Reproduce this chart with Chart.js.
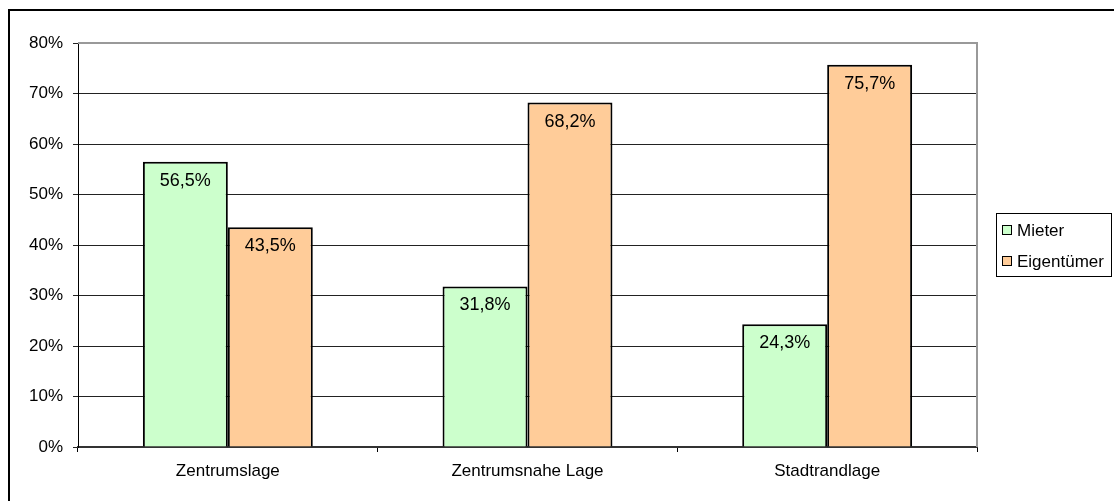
<!DOCTYPE html>
<html>
<head>
<meta charset="utf-8">
<style>
  html, body { margin: 0; padding: 0; background: #fff; }
  #wrap { width: 1114px; height: 501px; position: relative; }
</style>
<script src="https://cdn.jsdelivr.net/npm/chart.js@4.4.1/dist/chart.umd.min.js"></script>
</head>
<body>
<div id="wrap"><canvas id="chart" width="1114" height="501"></canvas></div>
<script>
// ─── Data ───
const categories = ['Zentrumslage', 'Zentrumsnahe Lage', 'Stadtrandlage'];
const mieter = [56.5, 31.8, 24.3];
const eigentuemer = [43.5, 68.2, 75.7];
const seriesNames = ['Mieter', 'Eigentümer'];
const yMin = 0;
const yMax = 80;
const yStep = 10;

const FONT = '"Liberation Sans", Arial, sans-serif';
const pct = (v) => `${v.toFixed(1).replace('.', ',')}%`;

// ─── Plugins ───
const frame = {
  id: 'frame',
  beforeDraw(chart) {
    const { ctx } = chart;
    ctx.save();
    // outer chart border (runs past right/bottom edge)
    ctx.strokeStyle = '#000';
    ctx.lineWidth = 2;
    ctx.strokeRect(9, 10, 1200, 600);
    ctx.restore();
  },
  beforeDatasetsDraw(chart) {
    const { ctx, chartArea: a } = chart;
    ctx.save();
    ctx.strokeStyle = '#999';
    ctx.lineWidth = 2;
    ctx.beginPath();
    ctx.moveTo(a.left, a.top);
    ctx.lineTo(a.right, a.top);
    ctx.lineTo(a.right, a.bottom);
    ctx.stroke();
    ctx.restore();
  },
};

const barLabels = {
  id: 'barLabels',
  afterDatasetsDraw(chart) {
    const { ctx } = chart;
    ctx.save();
    ctx.font = `18px ${FONT}`;
    ctx.fillStyle = '#000';
    ctx.textAlign = 'center';
    ctx.textBaseline = 'middle';
    chart.data.datasets.forEach((ds, i) => {
      chart.getDatasetMeta(i).data.forEach((bar, j) => {
        ctx.fillText(pct(ds.data[j]), bar.x, bar.y + 19);
      });
    });
    ctx.restore();
  },
};

const boxLegend = {
  id: 'boxLegend',
  afterDraw(chart) {
    const { ctx } = chart;
    const x = 996, y = 213, w = 115, h = 63;
    ctx.save();
    ctx.fillStyle = '#fff';
    ctx.fillRect(x, y, w, h);
    ctx.strokeStyle = '#000';
    ctx.lineWidth = 1;
    ctx.strokeRect(x + 0.5, y + 0.5, w, h);
    ctx.font = `17px ${FONT}`;
    ctx.textBaseline = 'middle';
    chart.data.datasets.forEach((ds, i) => {
      const cy = y + 17 + i * 31;
      ctx.fillStyle = ds.backgroundColor;
      ctx.fillRect(x + 6.5, cy - 4.5, 9, 9);
      ctx.strokeStyle = '#000';
      ctx.strokeRect(x + 6.5, cy - 4.5, 9, 9);
      ctx.fillStyle = '#000';
      ctx.fillText(ds.label, x + 21, cy + 1);
    });
    ctx.restore();
  },
};

// ─── Chart ───
new Chart(document.getElementById('chart'), {
  type: 'bar',
  data: {
    labels: categories,
    datasets: [
      {
        label: seriesNames[0],
        data: mieter,
        backgroundColor: '#CCFFCC',
        borderColor: '#000',
        borderWidth: 2,
      },
      {
        label: seriesNames[1],
        data: eigentuemer,
        backgroundColor: '#FFCC99',
        borderColor: '#000',
        borderWidth: 2,
      },
    ],
  },
  options: {
    responsive: false,
    animation: false,
    layout: { padding: { top: 43, right: 137, left: 0, bottom: 0 } },
    datasets: { bar: { categoryPercentage: 0.567, barPercentage: 1 } },
    plugins: {
      legend: { display: false },
      tooltip: { enabled: false },
    },
    scales: {
      x: {
        afterFit: (s) => { s.height = 54; },
        grid: {
          offset: true,
          drawOnChartArea: false,
          drawTicks: true,
          tickLength: 5,
          color: '#000',
        },
        border: { color: '#333', width: 2 },
        ticks: { color: '#000', padding: 9, font: { family: FONT, size: 17 } },
      },
      y: {
        min: yMin,
        max: yMax,
        afterFit: (s) => { s.width = 78; },
        grid: { color: '#222', lineWidth: 1, tickLength: 5 },
        border: { color: '#000', width: 1 },
        ticks: {
          stepSize: yStep,
          color: '#000',
          padding: 10,
          font: { family: FONT, size: 17 },
          callback: (v) => `${v}%`,
        },
      },
    },
  },
  plugins: [frame, barLabels, boxLegend],
});
</script>
</body>
</html>
